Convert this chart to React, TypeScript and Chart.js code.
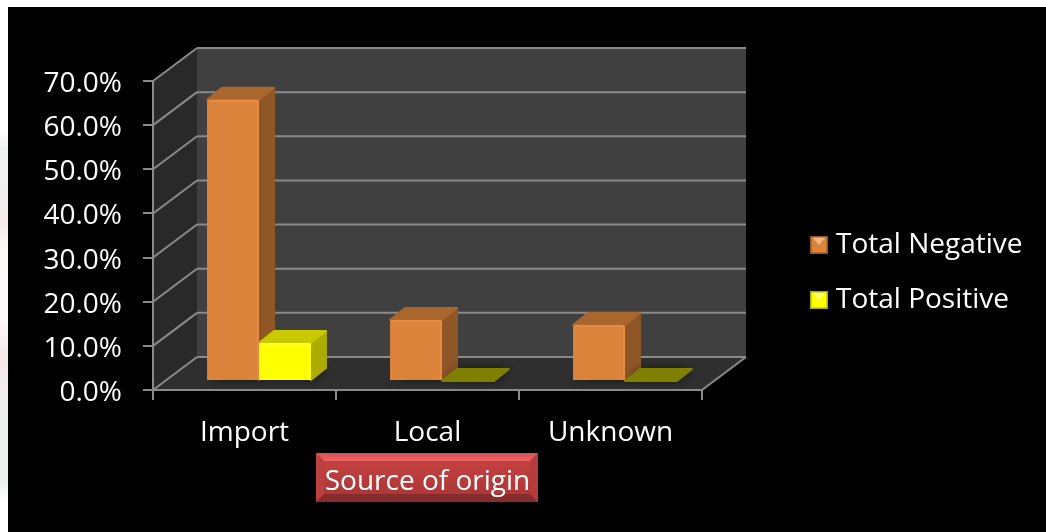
import React, { useEffect, useRef } from "react";
import { Chart, registerables } from "chart.js";

Chart.register(...registerables);

const categories = ["Import", "Local", "Unknown"];
const totalNegative = [63.7, 13.8, 12.7];
const totalPositive = [8.6, 0, 0];
const axisTitle = "Source of origin";
const FONT = '"Open Sans", sans-serif';
const FONT_SIZE = 28;
const RULE = "#8A8A8A";

// Projection of the box: how far the back wall sits from the front axes,
// how far bars stand in from the front edge, and the depth of each bar.
const WALL = { dx: 44, dy: -33 };
const INSET = { dx: 14.5, dy: -9 };
const BAR = { dx: 15, dy: -12 };

const palette = {
  negative: { front: "#DB823B", side: "#8F5626", top: "#A9662D", light: "#E58C44", flat: "#A9662D", glint: "#F3B67E" },
  positive: { front: "#FFFF00", side: "#ABAB00", top: "#C9C900", light: "#FFFF22", flat: "#808000", glint: "#FFFF70" },
};
const styles = [palette.negative, palette.positive];

function poly(ctx: CanvasRenderingContext2D, pts: number[][], fill?: string, round?: boolean) {
  ctx.beginPath();
  pts.forEach((p, i) => (i ? ctx.lineTo(p[0], p[1]) : ctx.moveTo(p[0], p[1])));
  ctx.closePath();
  if (fill) {
    ctx.fillStyle = fill;
    ctx.fill();
    if (round) {
      ctx.strokeStyle = fill;
      ctx.lineJoin = "round";
      ctx.lineWidth = 2;
      ctx.stroke();
    }
  }
}

function seg(ctx: CanvasRenderingContext2D, x0: number, y0: number, x1: number, y1: number) {
  ctx.beginPath();
  ctx.moveTo(x0, y0);
  ctx.lineTo(x1, y1);
  ctx.stroke();
}

function drawPage(chart: any) {
  const ctx: CanvasRenderingContext2D = chart.ctx;
  const W = chart.width;
  const H = chart.height;
  ctx.fillStyle = "#FFFFFF";
  ctx.fillRect(0, 0, W, H);
  const strip = ctx.createLinearGradient(0, 135, 0, 500);
  [
    [0, "#FBFBFB"], [0.04, "#EFF0F0"], [0.17, "#EFEFEF"], [0.24, "#F6E9EB"], [0.3, "#FDF7F8"],
    [0.5, "#FDF8FA"], [0.62, "#F6E6EA"], [0.72, "#EFEFF0"], [0.95, "#EEEFEF"], [1, "#FFFFFF"],
  ].forEach(([s, c]) => strip.addColorStop(s as number, c as string));
  ctx.fillStyle = strip;
  ctx.fillRect(0, 135, 8, 365);
  ctx.fillStyle = "#000000";
  ctx.fillRect(8, 7, W - 8, H - 7);
}

function drawWalls(chart: any) {
  const ctx: CanvasRenderingContext2D = chart.ctx;
  const { left, right, top, bottom } = chart.chartArea;
  const { dx, dy } = WALL;
  // side wall, back wall, floor
  poly(ctx, [[left, top], [left + dx, top + dy], [left + dx, bottom + dy], [left, bottom]], "#292929");
  poly(ctx, [[left + dx, top + dy], [right + dx, top + dy], [right + dx, bottom + dy], [left + dx, bottom + dy]], "#404040");
  poly(ctx, [[left, bottom], [left + dx, bottom + dy], [right + dx, bottom + dy], [right, bottom]], "#2F2F2F");

  ctx.strokeStyle = RULE;
  ctx.lineWidth = 2;
  chart.scales.y.ticks.forEach((t: any) => {
    const y = chart.scales.y.getPixelForValue(t.value);
    seg(ctx, left, y, left + dx, y + dy);
    seg(ctx, left + dx, y + dy, right + dx, y + dy);
  });
  seg(ctx, right, bottom, right + dx, bottom + dy);
}

function drawTitleButton(chart: any) {
  const ctx: CanvasRenderingContext2D = chart.ctx;
  const x0 = 316, y0 = 453, x1 = 538, y1 = 502, b = 8;
  const face = ctx.createLinearGradient(0, y0, 0, y1);
  face.addColorStop(0, "#C94343");
  face.addColorStop(1, "#A83535");
  ctx.fillStyle = face;
  ctx.fillRect(x0, y0, x1 - x0, y1 - y0);
  const crown = ctx.createLinearGradient(0, y0, 0, y0 + b);
  crown.addColorStop(0, "#D65050");
  crown.addColorStop(1, "#EE6464");
  poly(ctx, [[x0, y0], [x1, y0], [x1 - b, y0 + b], [x0 + b, y0 + b]], crown as any);
  poly(ctx, [[x0, y1], [x1, y1], [x1 - b, y1 - b], [x0 + b, y1 - b]], "#862C2C");
  poly(ctx, [[x0, y0], [x0 + b, y0 + b], [x0 + b, y1 - b], [x0, y1]], "#BC4040");
  poly(ctx, [[x1, y0], [x1 - b, y0 + b], [x1 - b, y1 - b], [x1, y1]], "#B43C3C");
}

// Faces of each bar that the library's flat rectangles do not cover.
function drawBarDepth(chart: any) {
  const ctx: CanvasRenderingContext2D = chart.ctx;
  chart.data.datasets.forEach((_: any, di: number) => {
    const c = styles[di];
    chart.getDatasetMeta(di).data.forEach((el: any, i: number) => {
      const v = chart.data.datasets[di].data[i];
      const x0 = el.x - el.width / 2;
      const x1 = el.x + el.width / 2;
      const yt = el.y;
      const yb = el.base;
      const { dx, dy } = BAR;
      ctx.save();
      ctx.shadowColor = "rgba(0,0,0,0.6)";
      ctx.shadowBlur = 10;
      ctx.shadowOffsetX = 2;
      poly(ctx, [[x0, yb], [x1, yb], [x1 + dx, yb + dy], [x0 + dx, yb + dy]], "#262626");
      ctx.restore();
      if (v === 0) {
        poly(ctx, [[x0, yb], [x1, yb], [x1 + dx, yb + dy], [x0 + dx, yb + dy]], c.flat, true);
        return;
      }
      poly(ctx, [[x1, yt], [x1 + dx, yt + dy], [x1 + dx, yb + dy], [x1, yb]], c.side, true);
      poly(ctx, [[x0, yt], [x0 + dx, yt + dy], [x1 + dx, yt + dy], [x1, yt]], c.top, true);
    });
  });
}

// Thin lit edge along the top and right of the front faces.
function drawBarEdges(chart: any) {
  const ctx: CanvasRenderingContext2D = chart.ctx;
  chart.data.datasets.forEach((_: any, di: number) => {
    const c = styles[di];
    chart.getDatasetMeta(di).data.forEach((el: any, i: number) => {
      if (chart.data.datasets[di].data[i] === 0) return;
      const x0 = el.x - el.width / 2;
      const x1 = el.x + el.width / 2;
      ctx.strokeStyle = c.light;
      ctx.lineWidth = 2;
      seg(ctx, x0 + 1, el.y + 1, x1 - 1, el.y + 1);
      seg(ctx, x1 - 1, el.y + 1, x1 - 1, el.base - 1);
    });
  });
}

function legendMarker(c: { front: string; side: string; glint: string }) {
  const s = 18;
  const cv = document.createElement("canvas");
  cv.width = s;
  cv.height = s;
  const g = cv.getContext("2d") as CanvasRenderingContext2D;
  g.fillStyle = c.front;
  g.fillRect(0, 0, s, s);
  poly(g, [[2, 1], [16, 1], [9, 9]], c.glint);
  g.strokeStyle = c.side;
  g.lineWidth = 1.5;
  g.strokeRect(0.75, 0.75, s - 1.5, s - 1.5);
  return cv;
}

const box3d = {
  id: "box3d",
  beforeLayout(chart: any) {
    // Reserve the whole right-hand column for the legend.
    const legend = chart.legend;
    if (!legend.columnFitted) {
      const fit = legend.fit;
      legend.fit = function () {
        fit.call(this);
        this.width = 344;
      };
      legend.columnFitted = true;
    }
  },
  afterLayout(chart: any) {
    const l = chart.legend;
    l.left = 789;
    l.right = 1046;
    l.top = 204;
    l.bottom = 420;
  },
  beforeDraw(chart: any) {
    drawPage(chart);
    drawWalls(chart);
    drawTitleButton(chart);
  },
  beforeDatasetsDraw(chart: any) {
    const ctx = chart.ctx;
    ctx.save();
    ctx.translate(INSET.dx, INSET.dy);
    drawBarDepth(chart);
  },
  afterDatasetsDraw(chart: any) {
    drawBarEdges(chart);
    chart.ctx.restore();
  },
};

export default function App() {
  const ref = useRef<HTMLCanvasElement>(null);
  useEffect(() => {
    const chart = new Chart(ref.current as HTMLCanvasElement, {
      type: "bar",
      data: {
        labels: categories,
        datasets: [
          { label: "Total Negative", data: totalNegative, backgroundColor: palette.negative.front, clip: false } as any,
          { label: "Total Positive", data: totalPositive, backgroundColor: palette.positive.front, clip: false } as any,
        ],
      },
      options: {
        responsive: false,
        animation: false,
        layout: { padding: { left: 0, top: 81, right: 0, bottom: 0 } },
        datasets: { bar: { categoryPercentage: 0.568, barPercentage: 1, borderWidth: 0, borderRadius: 2 } },
        plugins: {
          tooltip: { enabled: false },
          legend: {
            position: "right",
            align: "start",
            labels: {
              color: "#FFFFFF",
              font: { family: FONT, size: FONT_SIZE },
              padding: 27,
              usePointStyle: true,
              pointStyleWidth: 6,
              generateLabels: (chart: any) =>
                chart.data.datasets.map((d: any, i: number) => ({
                  text: d.label,
                  fontColor: "#FFFFFF",
                  pointStyle: legendMarker(styles[i]),
                  datasetIndex: i,
                  lineWidth: 0,
                })),
            },
          },
        },
        scales: {
          x: {
            afterFit: (s: any) => {
              s.height = 142;
            },
            grid: {
              drawOnChartArea: false,
              drawTicks: true,
              tickLength: 10,
              color: RULE,
              lineWidth: 2,
            },
            border: { display: true, color: RULE, width: 2 },
            ticks: { color: "#FFFFFF", font: { family: FONT, size: FONT_SIZE }, padding: 16 },
            title: {
              display: true,
              text: axisTitle,
              color: "#FFFFFF",
              font: { family: FONT, size: FONT_SIZE },
              padding: { top: 2, bottom: 33 },
            },
          },
          y: {
            min: 0,
            max: 70,
            afterFit: (s: any) => {
              s.width = 153;
            },
            grid: {
              drawOnChartArea: false,
              drawTicks: true,
              tickLength: 10,
              color: RULE,
              lineWidth: 2,
            },
            border: { display: true, color: RULE, width: 2 },
            ticks: {
              stepSize: 10,
              color: "#FFFFFF",
              font: { family: FONT, size: FONT_SIZE },
              padding: 21,
              labelOffset: 3,
              callback: (v: any) => Number(v).toFixed(1) + "%",
            },
          },
        },
      } as any,
      plugins: [box3d as any],
    });
    return () => chart.destroy();
  }, []);
  return (
    <div style={{ position: "absolute", left: 0, top: 0, width: 1046, height: 532, overflow: "hidden" }}>
      <canvas ref={ref} width={1046} height={532} style={{ display: "block" }} />
    </div>
  );
}
